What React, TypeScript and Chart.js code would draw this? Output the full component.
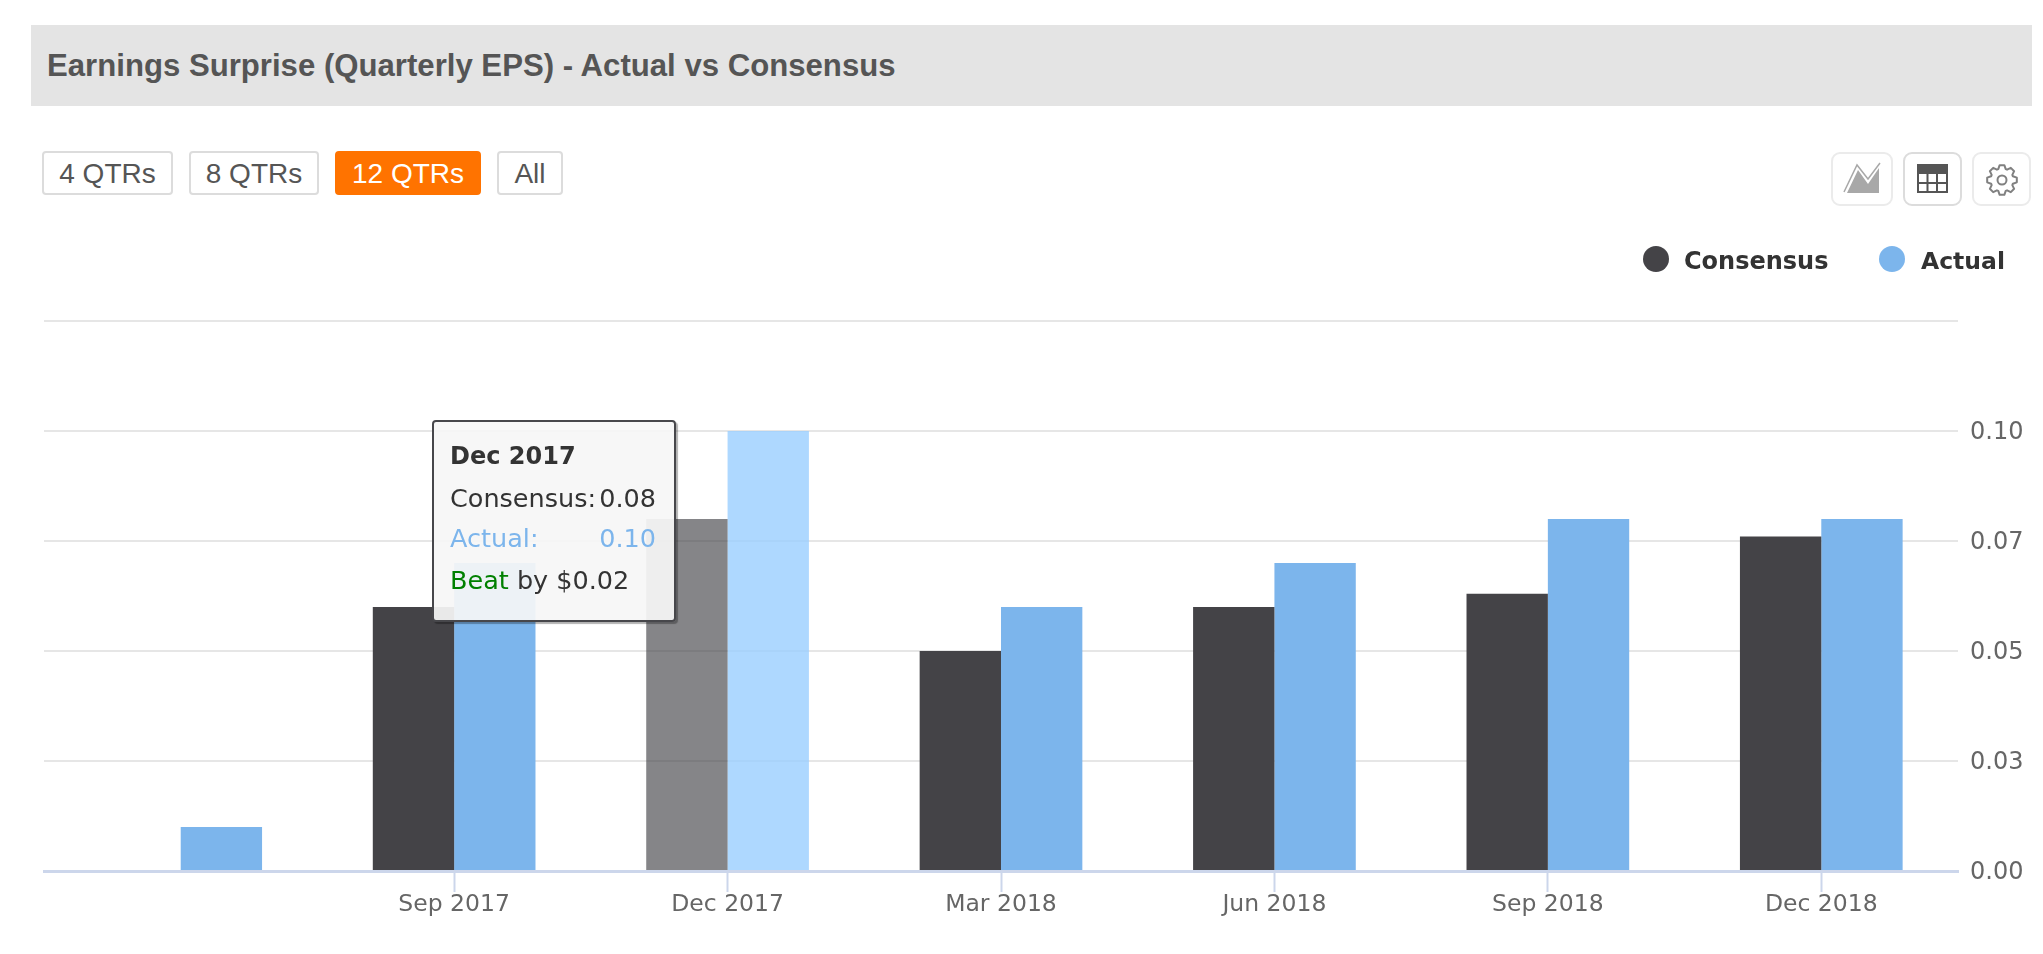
import React, { useEffect, useRef } from "react";
import { Chart, registerables } from "chart.js";

Chart.register(...registerables);

const categories = ["", "Sep 2017", "Dec 2017", "Mar 2018", "Jun 2018", "Sep 2018", "Dec 2018"];
const consensus = [null, 0.06, 0.08, 0.05, 0.06, 0.063, 0.076];
const actual = [0.01, 0.07, 0.1, 0.06, 0.07, 0.08, 0.08];
const yTickValues = [0, 0.025, 0.05, 0.075, 0.1, 0.125];
const yTickLabels = ["0.00", "0.03", "0.05", "0.07", "0.10", ""];
const rangeButtons = ["4 QTRs", "8 QTRs", "12 QTRs", "All"];
const hoveredIndex = 2;

const DARK = "#444347";
const BLUE = "#7cb5ec";
const DARK_HOVER = "rgba(67,67,72,0.65)";
const BLUE_HOVER = "rgba(154,206,255,0.8)";
const SANS = '"Liberation Sans", Arial, sans-serif';
const LABEL_FONT = '"DejaVu Sans", sans-serif';

const abs = (left: number, top: number, width: number, height: number): React.CSSProperties => ({
  position: "absolute",
  left,
  top,
  width,
  height,
  boxSizing: "border-box",
});

const buttonBoxes = [
  [42, 131],
  [189, 130],
  [335, 146],
  [497, 66],
];

function gearPath(cx: number, cy: number, outer: number, inner: number, teeth: number) {
  const pts: string[] = [];
  const step = (Math.PI * 2) / teeth;
  for (let i = 0; i < teeth; i++) {
    const a = i * step - Math.PI / 2;
    const spots: [number, number][] = [
      [a - step * 0.42, inner],
      [a - step * 0.2, outer],
      [a + step * 0.2, outer],
      [a + step * 0.42, inner],
    ];
    for (const [t, r] of spots) pts.push(`${(cx + r * Math.cos(t)).toFixed(2)},${(cy + r * Math.sin(t)).toFixed(2)}`);
  }
  return "M" + pts.join("L") + "Z";
}

function IconBox({ left, width, strong, children }: { left: number; width: number; strong?: boolean; children: React.ReactNode }) {
  return (
    <div
      style={{
        ...abs(left, 152, width, 54),
        border: `2px solid ${strong ? "#dcdcdc" : "#ebebeb"}`,
        borderRadius: 9,
        background: "#fff",
      }}
    >
      {children}
    </div>
  );
}

export default function App() {
  const ref = useRef<HTMLCanvasElement | null>(null);

  useEffect(() => {
    if (!ref.current) return;
    const chart = new Chart(ref.current, {
      type: "bar",
      data: {
        labels: categories,
        datasets: [
          {
            label: "Consensus",
            data: consensus,
            backgroundColor: categories.map((_, i) => (i === hoveredIndex ? DARK_HOVER : DARK)),
            barPercentage: 1,
            categoryPercentage: 0.595,
          },
          {
            label: "Actual",
            data: actual,
            backgroundColor: categories.map((_, i) => (i === hoveredIndex ? BLUE_HOVER : BLUE)),
            barPercentage: 1,
            categoryPercentage: 0.595,
          },
        ],
      },
      options: {
        responsive: false,
        devicePixelRatio: 1,
        animation: false,
        events: [],
        layout: { padding: { left: 44, top: 321, right: 0, bottom: 0 } },
        plugins: { legend: { display: false }, tooltip: { enabled: false }, title: { display: false } },
        scales: {
          x: {
            type: "category",
            afterFit: (s: any) => {
              s.height = 83;
            },
            border: { display: true, color: "#ccd6eb", width: 3 },
            grid: {
              offset: false,
              drawOnChartArea: false,
              drawTicks: true,
              tickLength: 21,
              tickWidth: 2,
              tickColor: (c: any) => (c.index === 0 ? "rgba(0,0,0,0)" : "#ccd6eb"),
            },
            ticks: {
              autoSkip: false,
              maxRotation: 0,
              padding: -1,
              color: "#666",
              font: { family: LABEL_FONT, size: 23.5 },
            },
          },
          y: {
            position: "right",
            min: yTickValues[0],
            max: yTickValues[yTickValues.length - 1],
            afterFit: (s: any) => {
              s.width = 85;
            },
            afterBuildTicks: (s: any) => {
              s.ticks = yTickValues.map((value) => ({ value }));
            },
            border: { display: false },
            grid: { color: "#e6e6e6", lineWidth: 2, drawTicks: false },
            ticks: {
              padding: 12,
              labelOffset: 2,
              color: "#666",
              font: { family: LABEL_FONT, size: 24 },
              callback: (_: any, i: number) => yTickLabels[i],
            },
          },
        },
      },
    });
    return () => chart.destroy();
  }, []);

  const lineBase: React.CSSProperties = { position: "absolute", left: 0, right: 0, height: 40, lineHeight: "40px", whiteSpace: "nowrap" };
  const fmt = (v: number | null) => (v == null ? "" : v.toFixed(2));
  const beat = (actual[hoveredIndex] as number) - (consensus[hoveredIndex] as number);

  return (
    <div style={{ ...abs(0, 0, 2043, 954), background: "#fff", overflow: "hidden" }}>
      <div style={{ ...abs(31, 25, 2001, 81), background: "#e4e4e4" }} />
      <div
        style={{
          position: "absolute",
          left: 47,
          top: 46,
          lineHeight: "40px",
          fontFamily: SANS,
          fontWeight: 700,
          fontSize: 31.15,
          color: "#555",
          whiteSpace: "nowrap",
        }}
      >
        Earnings Surprise (Quarterly EPS) - Actual vs Consensus
      </div>

      {rangeButtons.map((b, i) => {
        const active = i === 2;
        return (
          <div
            key={b}
            style={{
              ...abs(buttonBoxes[i][0], 151, buttonBoxes[i][1], 44),
              border: active ? "2px solid #ff7300" : "2px solid #dcdcdc",
              background: active ? "#ff7300" : "#fff",
              color: active ? "#fff" : "#555",
              borderRadius: 4,
              fontFamily: SANS,
              fontSize: 28,
              lineHeight: "42px",
              textAlign: "center",
            }}
          >
            {b}
          </div>
        );
      })}

      <IconBox left={1831} width={62}>
        <svg width={58} height={50} style={{ display: "block" }}>
          <polygon points="14,39 25,16 35,30 46,14 46,39" fill="#a8a8a8" />
          <polyline points="11,38 24,11 35,25 47,9" fill="none" stroke="#a8a8a8" strokeWidth={1.5} />
        </svg>
      </IconBox>
      <IconBox left={1903} width={59} strong>
        <svg width={55} height={50} style={{ display: "block" }}>
          <rect x={13} y={11} width={29} height={27} fill="#fff" stroke="#555" strokeWidth={2} />
          <rect x={13} y={11} width={29} height={9} fill="#555" />
          <path d="M22.5 20V38M32 20V38M13 29H42" stroke="#555" strokeWidth={2} fill="none" />
        </svg>
      </IconBox>
      <IconBox left={1972} width={59}>
        <svg width={55} height={50} style={{ display: "block" }}>
          <path d={gearPath(28, 26, 15, 11.5, 8)} fill="#fff" stroke="#808080" strokeWidth={2} strokeLinejoin="round" />
          <circle cx={28} cy={26} r={4.5} fill="#fff" stroke="#808080" strokeWidth={2} />
        </svg>
      </IconBox>

      <canvas ref={ref} width={2043} height={954} style={{ position: "absolute", left: 0, top: 0, width: 2043, height: 954 }} />

      <div style={{ ...abs(1643, 246, 26, 26), borderRadius: 13, background: DARK }} />
      <div style={{ position: "absolute", left: 1684, top: 241, lineHeight: "40px", fontFamily: LABEL_FONT, fontWeight: 700, fontSize: 24, color: "#333" }}>
        Consensus
      </div>
      <div style={{ ...abs(1879, 246, 26, 26), borderRadius: 13, background: BLUE }} />
      <div style={{ position: "absolute", left: 1921, top: 241, lineHeight: "40px", fontFamily: LABEL_FONT, fontWeight: 700, fontSize: 23.5, color: "#333" }}>
        Actual
      </div>

      <div
        style={{
          ...abs(432, 420, 244, 202),
          background: "rgba(246,246,246,0.925)",
          border: "2px solid #47474b",
          borderRadius: 4,
          boxShadow: "2px 2px 1px rgba(0,0,0,0.3)",
          fontFamily: LABEL_FONT,
          fontSize: 25.5,
          color: "#333",
        }}
      >
        <div style={{ ...lineBase, left: 16, top: 14, fontWeight: 700, fontSize: 24 }}>{categories[hoveredIndex]}</div>
        <div style={{ ...lineBase, left: 16, top: 56 }}>Consensus:</div>
        <div style={{ ...lineBase, left: "auto", right: 18, top: 56, textAlign: "right" }}>{fmt(consensus[hoveredIndex])}</div>
        <div style={{ ...lineBase, left: 16, top: 96, color: BLUE }}>Actual:</div>
        <div style={{ ...lineBase, left: "auto", right: 18, top: 96, textAlign: "right", color: BLUE }}>{fmt(actual[hoveredIndex])}</div>
        <div style={{ ...lineBase, left: 16, top: 138 }}>
          <span style={{ color: "green" }}>Beat</span> by ${beat.toFixed(2)}
        </div>
      </div>
    </div>
  );
}
